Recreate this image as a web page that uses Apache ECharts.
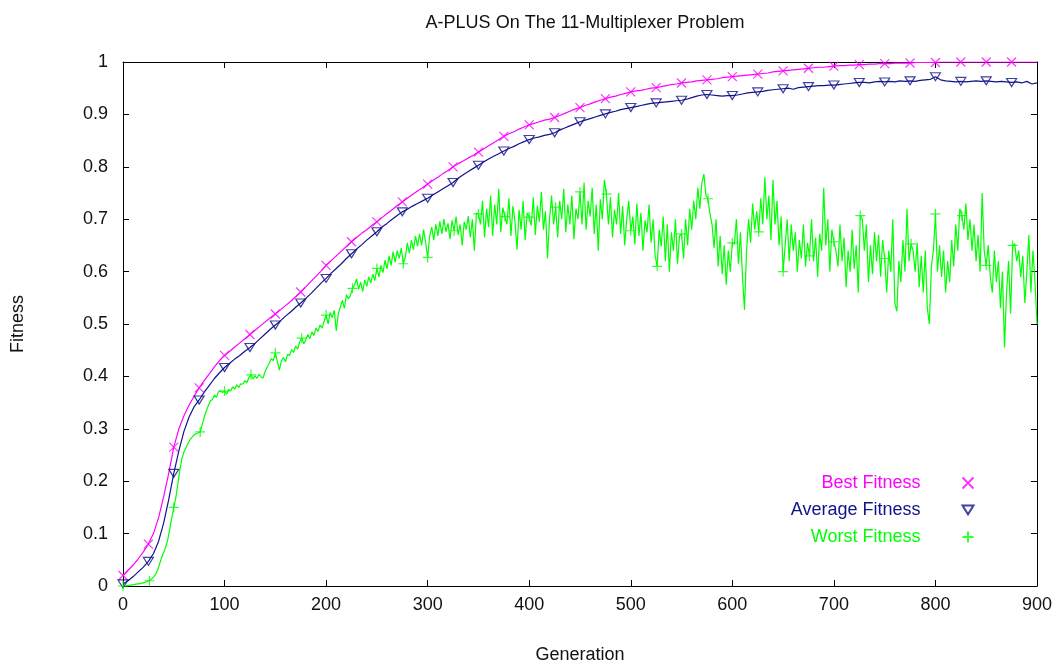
<!DOCTYPE html>
<html><head><meta charset="utf-8">
<script src="https://cdn.jsdelivr.net/npm/echarts/dist/echarts.min.js"></script>
<style>html,body{margin:0;padding:0;background:#fff}#c{width:1061px;height:669px}</style>
</head><body><div id="c"></div>
<script>
const titleText = 'A-PLUS On The 11-Multiplexer Problem';
const xName = 'Generation';
const yName = 'Fitness';
const seriesNames = ['Best Fitness', 'Average Fitness', 'Worst Fitness'];
const seriesColors = ['#ff00ff', '#12128a', '#00ff00'];
const xTickLabels = ['0','100','200','300','400','500','600','700','800','900'];
const yTickLabels = ['0','0.1','0.2','0.3','0.4','0.5','0.6','0.7','0.8','0.9','1'];
const markerEvery = 25;
const markerLast = 875;

// Best fitness, one value every 5 generations (0..900)
const bestStep = 5;
const best = [
.020,.030,.040,.052,.065,.080,.100,.130,.170,.215,
.265,.300,.325,.345,.362,.378,.392,.405,.418,.430,
.440,.448,.456,.464,.472,.480,.488,.496,.504,.512,
.519,.527,.535,.543,.552,.561,.571,.581,.591,.601,
.612,.621,.630,.639,.648,.657,.665,.673,.680,.688,
.695,.703,.711,.718,.726,.733,.740,.747,.754,.760,
.767,.774,.780,.787,.793,.800,.806,.811,.817,.822,
.828,.834,.840,.846,.852,.858,.863,.867,.872,.876,
.880,.883,.886,.889,.891,.894,.898,.902,.906,.910,
.913,.917,.920,.924,.927,.930,.933,.935,.938,.940,
.943,.945,.946,.948,.950,.951,.953,.955,.957,.958,
.960,.961,.962,.964,.965,.966,.967,.968,.970,.971,
.972,.973,.974,.975,.976,.977,.978,.979,.981,.982,
.983,.984,.985,.986,.987,.988,.989,.990,.990,.991,
.992,.993,.993,.994,.994,.995,.995,.996,.996,.997,
.997,.997,.998,.998,.998,.998,.999,.999,.999,.999,
.999,1,1,1,1,1,1,1,1,1,
1,1,1,1,1,1,1,1,1,1,1
];

// Average fitness, one value every 5 generations (0..900)
const avgStep = 5;
const average = [
.004,.010,.018,.027,.036,.047,.062,.085,.120,.165,
.215,.258,.295,.322,.342,.355,.370,.383,.396,.407,
.417,.425,.433,.440,.448,.455,.463,.472,.481,.490,
.498,.506,.515,.523,.532,.540,.549,.558,.568,.578,
.587,.597,.606,.615,.625,.634,.643,.651,.660,.668,
.676,.685,.692,.700,.707,.714,.719,.725,.730,.735,
.740,.746,.752,.758,.764,.770,.778,.785,.791,.797,
.803,.809,.815,.820,.825,.830,.835,.839,.844,.848,
.852,.855,.857,.860,.862,.865,.870,.874,.878,.882,
.886,.889,.892,.895,.898,.901,.904,.906,.909,.911,
.913,.915,.917,.919,.921,.922,.923,.924,.925,.926,
.927,.929,.932,.935,.937,.938,.937,.936,.935,.936,
.936,.937,.939,.941,.942,.943,.944,.946,.947,.948,
.949,.950,.948,.951,.952,.953,.954,.955,.955,.956,
.956,.957,.958,.959,.960,.961,.961,.960,.962,.963,
.962,.963,.962,.964,.963,.964,.963,.965,.966,.967,
.972,.966,.964,.963,.962,.963,.962,.963,.964,.963,
.964,.963,.962,.963,.962,.961,.962,.960,.963,.958,.960
];

// Worst fitness, one value every 2 generations (0..900)
const worstStep = 2;
const worst = [
0,0,.001,.001,.002,.002,.003,.004,.004,.005,.006,.007,.009,.010,.013,.017,.022,.030,.042,.054,.064,.074,.088,.108,.130,
.150,.168,.195,.222,.243,.256,.264,.272,.279,.284,.288,.291,.292,.294,.308,.322,.334,.344,.353,.356,.364,.360,.371,.373,.369,
.372,.366,.375,.372,.380,.376,.384,.379,.386,.385,.392,.388,.398,.403,.395,.401,.396,.404,.399,.397,.410,.418,.425,.434,.430,
.445,.428,.412,.430,.436,.428,.442,.440,.451,.446,.458,.452,.466,.473,.462,.470,.480,.472,.485,.478,.492,.486,.498,.492,.505,
.517,.500,.522,.512,.526,.487,.520,.532,.545,.530,.556,.548,.555,.568,.575,.586,.566,.580,.562,.584,.572,.590,.578,.595,.583,
.606,.590,.612,.598,.622,.605,.630,.612,.638,.618,.640,.625,.645,.615,.628,.655,.635,.660,.642,.668,.648,.672,.650,.680,.655,
.627,.668,.685,.660,.690,.668,.696,.672,.700,.676,.692,.662,.698,.678,.705,.670,.690,.650,.695,.680,.706,.665,.700,.640,.712,
.710,.690,.735,.665,.720,.685,.745,.668,.728,.690,.758,.675,.722,.705,.690,.740,.668,.725,.695,.642,.718,.680,.735,.660,.712,
.704,.688,.742,.670,.726,.695,.752,.680,.715,.625,.700,.745,.690,.723,.665,.735,.700,.758,.675,.728,.690,.745,.662,.720,.700,
.752,.690,.770,.680,.735,.705,.760,.672,.728,.640,.738,.700,.775,.748,.690,.742,.665,.718,.690,.750,.672,.725,.650,.700,.735,
.678,.705,.652,.730,.668,.712,.640,.698,.675,.728,.655,.700,.630,.610,.680,.648,.705,.620,.690,.600,.675,.640,.700,.615,.668,
.672,.625,.700,.650,.720,.680,.735,.700,.760,.720,.770,.786,.745,.739,.710,.690,.645,.700,.610,.668,.595,.650,.575,.640,.600,
.655,.652,.700,.615,.675,.590,.527,.640,.700,.655,.730,.680,.715,.676,.740,.690,.780,.700,.745,.660,.775,.690,.735,.650,.705,
.600,.650,.700,.620,.690,.640,.675,.600,.660,.625,.690,.610,.655,.630,.700,.620,.665,.590,.672,.640,.760,.650,.700,.600,.680,
.657,.640,.610,.690,.620,.665,.570,.640,.600,.680,.605,.650,.560,.707,.700,.640,.690,.580,.650,.595,.675,.620,.670,.590,.660,
.625,.560,.640,.600,.700,.540,.524,.620,.580,.660,.600,.720,.620,.653,.640,.600,.655,.570,.630,.560,.640,.530,.500,.610,.640,
.710,.600,.650,.590,.640,.560,.620,.580,.660,.610,.690,.640,.720,.707,.680,.730,.660,.700,.640,.690,.620,.670,.600,.750,.640,
.612,.650,.590,.560,.640,.580,.620,.530,.600,.455,.560,.620,.520,.650,.653,.620,.640,.590,.630,.540,.600,.670,.560,.640,.580,
.500
];

const FONT = "'Liberation Sans', Arial, sans-serif";
const SYM_X = 'path://M0,0L10,10M10,0L0,10';
const SYM_TRI = 'path://M0,0L10,0L5,8Z';
const SYM_PLUS = 'path://M5,0L5,10M0,5L10,5';

function toPairs(arr, step) { return arr.map((v, i) => [i * step, v]); }
function markers(arr, step) {
  const out = [];
  for (let g = 0; g <= markerLast; g += markerEvery) {
    const idx = Math.round(g / step);
    out.push([idx * step, arr[idx]]);
  }
  return out;
}

const chart = echarts.init(document.getElementById('c'), null, { renderer: 'canvas' });

const axisLineStyle = { show: true, onZero: false, lineStyle: { color: '#000', width: 1 } };
const tickStyle = { show: true, inside: true, length: 6, lineStyle: { color: '#000', width: 1 } };

const lineSeries = (name, data, color, z) => ({
  name: name + ' line', type: 'line', data, showSymbol: false, symbol: 'none',
  lineStyle: { color, width: 1.2 }, itemStyle: { color }, z, silent: true, animation: false
});
const markSeries = (name, data, color, symbol, size, z) => ({
  name, type: 'scatter', data, symbol, symbolSize: size,
  itemStyle: { color: 'none', borderColor: color, borderWidth: 1.2 }, z, silent: true, animation: false
});

chart.setOption({
  animation: false,
  backgroundColor: '#fff',
  title: {
    text: titleText, left: 580, top: 9, textAlign: 'center',
    textStyle: { fontFamily: FONT, fontSize: 18, fontWeight: 'normal', color: '#111' }
  },
  grid: { left: 123, right: 24, top: 62, bottom: 79, containLabel: false },
  legend: {
    orient: 'vertical', align: 'right', right: 80, top: 469, itemGap: 9,
    itemWidth: 11, itemHeight: 11,
    textStyle: { fontFamily: FONT, fontSize: 18, lineHeight: 18, padding: [0, 37, 0, 0] },
    data: seriesNames.map((n, i) => ({ name: n, textStyle: { color: seriesColors[i] } })),
    selectedMode: false
  },
  xAxis: [
    {
      type: 'value', min: 0, max: 900, interval: 100, position: 'bottom',
      axisLine: axisLineStyle, axisTick: tickStyle, splitLine: { show: false },
      axisLabel: { margin: 10, fontFamily: FONT, fontSize: 18, color: '#111',
        formatter: v => xTickLabels[Math.round(v / 100)] },
      name: xName, nameLocation: 'middle', nameGap: 60,
      nameTextStyle: { fontFamily: FONT, fontSize: 18, color: '#111' }
    },
    {
      type: 'value', min: 0, max: 900, interval: 100, position: 'top',
      axisLine: axisLineStyle, axisTick: tickStyle, splitLine: { show: false },
      axisLabel: { show: false }
    }
  ],
  yAxis: [
    {
      type: 'value', min: 0, max: 1, interval: 0.1, position: 'left',
      axisLine: axisLineStyle, axisTick: tickStyle, splitLine: { show: false },
      axisLabel: { margin: 15, fontFamily: FONT, fontSize: 18, color: '#111',
        formatter: v => yTickLabels[Math.round(v * 10)] },
      name: yName, nameLocation: 'middle', nameGap: 96, nameRotate: 90,
      nameTextStyle: { fontFamily: FONT, fontSize: 18, color: '#111' }
    },
    {
      type: 'value', min: 0, max: 1, interval: 0.1, position: 'right',
      axisLine: axisLineStyle, axisTick: tickStyle, splitLine: { show: false },
      axisLabel: { show: false }
    }
  ],
  series: [
    lineSeries(seriesNames[2], toPairs(worst, worstStep), seriesColors[2], 2),
    lineSeries(seriesNames[1], toPairs(average, avgStep), seriesColors[1], 3),
    lineSeries(seriesNames[0], toPairs(best, bestStep), seriesColors[0], 4),
    markSeries(seriesNames[0], markers(best, bestStep), seriesColors[0], SYM_X, 9, 6),
    markSeries(seriesNames[1], markers(average, avgStep), seriesColors[1], SYM_TRI, [10, 8], 6),
    markSeries(seriesNames[2], markers(worst, worstStep), seriesColors[2], SYM_PLUS, 10, 6)
  ]
});
</script>
</body></html>
